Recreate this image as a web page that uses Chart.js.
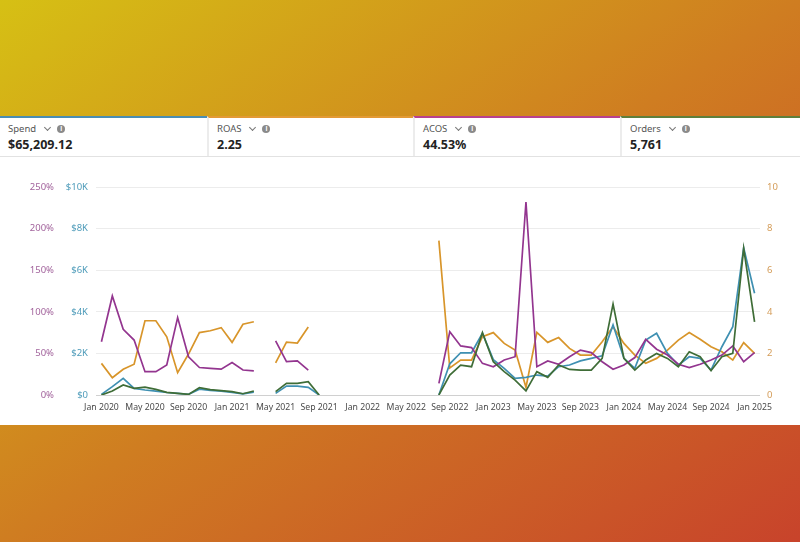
<!DOCTYPE html>
<html>
<head>
<meta charset="utf-8">
<script src="https://cdn.jsdelivr.net/npm/chart.js@4.4.1/dist/chart.umd.min.js"></script>
<style>
  html, body { margin: 0; padding: 0; }
  body {
    width: 800px; height: 542px; overflow: hidden; position: relative;
    background: linear-gradient(to bottom right, #d6c014 0%, #cf7d21 50%, #c8432b 100%);
    font-family: "Noto Sans", "Open Sans", sans-serif;
  }
  #panel { position: absolute; left: 0; top: 116px; width: 800px; height: 309px; background: #fff; }
  #cards { position: absolute; left: 0; top: 0; width: 800px; height: 40px; display: flex; border-bottom: 1px solid #e2e2e2; }
  .card { box-sizing: border-box; height: 40px; padding: 4px 0 0 8px; border-top: 2px solid; }
  .card + .card { border-left: 2px solid #ececec; }
  .lbl { font-size: 9.5px; color: #555; height: 14px; line-height: 14px; display: flex; align-items: center; }
  .chev { display: inline-block; width: 4px; height: 4px; border-right: 1.2px solid #777; border-bottom: 1.2px solid #777; transform: rotate(45deg); margin: -3px 0 0 9px; }
  .info { display: inline-block; width: 8px; height: 8px; border-radius: 50%; background: #8a8a8a; color: #fff; font-size: 6.5px; line-height: 8px; text-align: center; font-weight: bold; margin-left: 7px; }
  .val { font-size: 12.5px; font-weight: bold; color: #232323; line-height: 16px; margin-top: 1px; }
  #wrap { position: absolute; left: 0; top: 160px; width: 800px; height: 265px; }
</style>
</head>
<body>
<div id="panel">
  <div id="cards">
    <div class="card" style="width:207px;border-top-color:#4a8db3"><div class="lbl">Spend<span class="chev"></span><span class="info">i</span></div><div class="val">$65,209.12</div></div>
    <div class="card" style="width:206px;border-top-color:#e39a35"><div class="lbl">ROAS<span class="chev"></span><span class="info">i</span></div><div class="val">2.25</div></div>
    <div class="card" style="width:207px;border-top-color:#b8418f"><div class="lbl">ACOS<span class="chev"></span><span class="info">i</span></div><div class="val">44.53%</div></div>
    <div class="card" style="width:180px;border-top-color:#5e7f3c"><div class="lbl">Orders<span class="chev"></span><span class="info">i</span></div><div class="val">5,761</div></div>
  </div>
</div>
<div id="wrap"><canvas id="myChart"></canvas></div>
<script>
// months Jan 2020 .. Jan 2025
const monthNames = ['Jan', 'Feb', 'Mar', 'Apr', 'May', 'Jun', 'Jul', 'Aug', 'Sep', 'Oct', 'Nov', 'Dec'];
let months = [];
for (let y = 2020; y <= 2025; y++) {
  monthNames.forEach((m, i) => {
    if (y < 2025 || i === 0) months.push(m + ' ' + y);
  });
}

const _ = null;
const spend = [30, 400, 800, 320, 240, 190, 120, 80, 30, 280, 220, 180, 130, 50, 140,
  _, 80, 430, 430, 370, 0,
  _, _, _, _, _, _, _, _, _, _,
  0, 1500, 2030, 2030, 2970, 1700, 1280, 800, 850, 960, 910, 1360, 1440,
  1640, 1760, 1880, 3370, 1760, 1280, 2640, 2970, 2000, 1440, 1840, 1760, 1200, 2320, 3280, 7080, 4890];
const roas = [1.52, 0.83, 1.24, 1.48, 3.57, 3.57, 2.80, 1.07, 1.97, 3.00, 3.09, 3.24, 2.53, 3.40, 3.52,
  _, 1.54, 2.54, 2.50, 3.27, _,
  _, _, _, _, _, _, _, _, _, _,
  7.42, 1.30, 1.68, 1.68, 2.80, 3.00, 2.48, 2.16, 0.37, 3.01, 2.53, 2.76, 2.24,
  1.92, 1.92, 2.56, 3.28, 2.48, 1.92, 1.52, 1.76, 2.16, 2.64, 3.00, 2.68, 2.32, 2.08, 1.68, 2.52, 2.00];
const acos = [64, 119, 79, 66, 28, 28, 36, 93, 46, 33, 32, 31, 39, 30, 29,
  _, 65, 40, 41, 30, _,
  _, _, _, _, _, _, _, _, _, _,
  14, 76, 59, 57, 38, 34, 42, 46, 232, 34, 41, 37, 46,
  54, 51, 40, 31, 36, 45, 67, 55, 48, 37, 33, 37, 42, 48, 59, 40, 51];
const orders = [0, 19, 48, 32, 38, 27, 13, 8, 3, 35, 26, 21, 16, 6, 19,
  _, 16, 56, 56, 64, 0,
  _, _, _, _, _, _, _, _, _, _,
  0, 96, 144, 136, 300, 160, 112, 72, 20, 112, 85, 144, 123,
  120, 120, 176, 437, 176, 120, 168, 200, 176, 136, 208, 184, 117, 184, 200, 705, 352];

const tickFont = { family: '"Noto Sans", sans-serif', size: 9.5 };

function line(label, data, color, axis) {
  return {
    label: label, data: data, yAxisID: axis,
    borderColor: color, backgroundColor: color,
    borderWidth: 1.7, pointRadius: 0, tension: 0, spanGaps: false,
  };
}

const config = {
  type: 'line',
  data: {
    labels: months,
    datasets: [
      line('Orders', orders, '#3f6d37', 'yOrders'),
      line('ACOS', acos, '#93358f', 'yPct'),
      line('Spend', spend, '#3f90b2', 'ySpend'),
      line('ROAS', roas, '#d8952a', 'yRoas'),
    ],
  },
  options: {
    responsive: true,
    maintainAspectRatio: false,
    animation: false,
    layout: { padding: { top: 27, left: 0, right: 0, bottom: 0 } },
    plugins: { legend: { display: false }, tooltip: { enabled: false } },
    scales: {
      x: {
        offset: true,
        grid: { display: false, drawTicks: false },
        border: { display: false },
        ticks: {
          autoSkip: false, maxRotation: 0, padding: 7, color: '#4a4a4a',
          font: { family: '"Noto Sans", sans-serif', size: 8.7 },
          callback: (v, i) => (i % 4 === 0 ? months[i] : ''),
        },
        afterFit: (s) => { s.height = 30; },
      },
      yPct: {
        position: 'left', weight: 1, min: 0, max: 250,
        grid: { display: false, drawTicks: false },
        border: { display: false },
        ticks: { stepSize: 50, padding: 4, color: '#a2639c', font: tickFont, callback: (v) => v + '%' },
        afterFit: (s) => { s.width = 58; },
      },
      ySpend: {
        position: 'left', weight: 0, min: 0, max: 10000,
        grid: { drawTicks: false, color: (ctx) => (ctx.tick && ctx.tick.value === 0 ? '#d0d0d0' : '#ececec') },
        border: { display: false },
        ticks: { stepSize: 2000, padding: 8, color: '#4f9cba', font: tickFont,
          callback: (v) => (v === 0 ? '$0' : '$' + v / 1000 + 'K') },
        afterFit: (s) => { s.width = 38; },
      },
      yRoas: {
        position: 'right', min: 0, max: 10,
        grid: { display: false, drawTicks: false },
        border: { display: false },
        ticks: { stepSize: 2, padding: 7, color: '#d49c58', font: tickFont },
        afterFit: (s) => { s.width = 40; },
      },
      yOrders: { display: false, min: 0, max: 1000 },
    },
  },
};

const myChart = new Chart(document.getElementById('myChart'), config);
</script>
</body>
</html>
